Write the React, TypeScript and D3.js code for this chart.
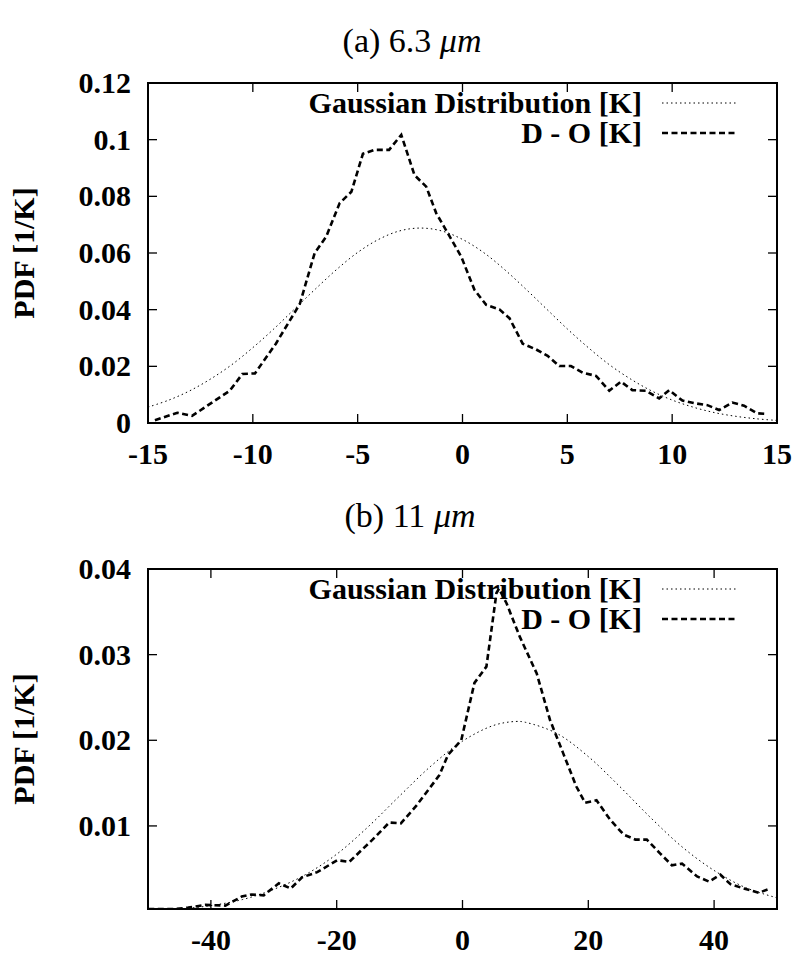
import React from "react";
import * as d3 from "d3";

// ---- Panel (a) 6.3 um ----
const topXTicks = [-15, -10, -5, 0, 5, 10, 15];
const topYTicks = [0, 0.02, 0.04, 0.06, 0.08, 0.1, 0.12];
const topYTickLabels = ["0", "0.02", "0.04", "0.06", "0.08", "0.1", "0.12"];

const topDOx = [-14.67, -13.6, -12.9, -11.1, -10.5, -9.9, -8.9, -7.76, -7.05, -6.5, -5.86, -5.3, -4.75, -4.19, -3.5, -2.92, -2.29, -1.73, -1.25, -0.78, -0.06, 0.57, 1.13, 1.76, 2.24, 2.87, 3.5, 4.06, 4.62, 5.17, 5.73, 6.37, 7.0, 7.56, 8.1, 8.75, 9.38, 9.86, 10.49, 11.13, 11.68, 12.24, 12.87, 13.43, 14.06, 14.54];
const topDOy = [0.001, 0.0036, 0.0025, 0.0114, 0.0173, 0.0175, 0.028, 0.042, 0.06, 0.0658, 0.0776, 0.0816, 0.095, 0.0964, 0.0964, 0.1017, 0.0875, 0.0834, 0.074, 0.068, 0.0587, 0.047, 0.0417, 0.0401, 0.037, 0.028, 0.026, 0.0237, 0.0201, 0.0201, 0.0178, 0.0166, 0.0114, 0.0146, 0.0116, 0.0114, 0.0087, 0.0116, 0.0079, 0.0069, 0.0063, 0.0046, 0.0072, 0.0061, 0.0034, 0.0032];

const topGx = [-15, -14, -13, -12, -11, -10, -9, -8, -7, -6, -5, -4, -3, -2, -1, 0, 1, 2, 3, 4, 5, 6, 7, 8, 9, 10, 11, 12, 13, 14, 15];
const topGy = [0.0056, 0.0081, 0.0114, 0.0156, 0.0206, 0.0266, 0.0332, 0.0403, 0.0474, 0.0542, 0.0602, 0.0648, 0.0678, 0.0688, 0.0678, 0.0648, 0.0602, 0.0542, 0.0474, 0.0403, 0.0332, 0.0266, 0.0206, 0.0156, 0.0114, 0.0081, 0.0056, 0.0037, 0.0024, 0.0015, 0.0009];

// ---- Panel (b) 11 um ----
const botXTicks = [-40, -20, 0, 20, 40];
const botYTicks = [0.01, 0.02, 0.03, 0.04];
const botYTickLabels = ["0.01", "0.02", "0.03", "0.04"];

const botDOx = [-49.96, -45.7, -43.6, -40.9, -37.7, -35.1, -33.5, -31.6, -29.2, -27.3, -25.5, -23.1, -19.9, -18.0, -14.3, -11.65, -9.8, -7.4, -3.7, -2.3, -0.2, 1.9, 3.8, 5.4, 5.8, 7.0, 9.1, 11.8, 13.9, 16.0, 18.1, 19.5, 21.3, 23.5, 25.6, 27.5, 29.3, 31.4, 33.3, 34.9, 37.3, 39.2, 41.0, 42.6, 44.7, 47.1, 49.0];
const botDOy = [0.0003, 0.0003, 0.00046, 0.00078, 0.0007, 0.00175, 0.002, 0.0019, 0.0033, 0.0027, 0.004, 0.0046, 0.006, 0.0058, 0.0084, 0.0104, 0.0103, 0.0123, 0.0159, 0.0183, 0.02, 0.0267, 0.0286, 0.0372, 0.0377, 0.036, 0.0321, 0.0278, 0.0224, 0.0185, 0.0146, 0.0127, 0.013, 0.0107, 0.009, 0.0084, 0.0084, 0.0068, 0.0054, 0.0056, 0.0041, 0.0035, 0.0043, 0.0032, 0.0027, 0.0022, 0.0027];

const botGx = [-50, -45, -40, -35, -30, -25, -20, -15, -10, -5, 0, 5, 8.5, 10, 15, 20, 25, 30, 35, 40, 45, 50];
const botGy = [0.00012, 0.0003, 0.0007, 0.0014, 0.0026, 0.0043, 0.0067, 0.0099, 0.0135, 0.017, 0.0199, 0.02175, 0.0222, 0.0221, 0.0208, 0.0181, 0.0146, 0.0109, 0.0075, 0.0048, 0.0028, 0.0016];

const legendLabels = ["Gaussian Distribution [K]", "D - O [K]"];
const yAxisLabel = "PDF [1/K]";

const FONT = "'Liberation Serif', 'Times New Roman', serif";
const FS = 30;

type PanelProps = {
  id: string;
  top: number;
  bottom: number;
  left: number;
  right: number;
  xDomain: [number, number];
  yDomain: [number, number];
  xTicks: number[];
  yTicks: number[];
  yTickLabels: string[];
  gx: number[];
  gy: number[];
  dx: number[];
  dy: number[];
};

function Panel(p: PanelProps) {
  const x = d3.scaleLinear().domain(p.xDomain).range([p.left, p.right]);
  const y = d3.scaleLinear().domain(p.yDomain).range([p.bottom, p.top]);
  const gPts = p.gx.map((v, i) => [v, p.gy[i]] as [number, number]);
  const dPts = p.dx.map((v, i) => [v, p.dy[i]] as [number, number]);
  const smooth = d3.line<[number, number]>().x((d) => x(d[0])).y((d) => y(d[1])).curve(d3.curveCatmullRom);
  const straight = d3.line<[number, number]>().x((d) => x(d[0])).y((d) => y(d[1]));
  const tl = 9;
  const cy = (p.top + p.bottom) / 2;
  return (
    <g>
      <defs>
        <clipPath id={p.id}>
          <rect x={p.left} y={p.top} width={p.right - p.left} height={p.bottom - p.top} />
        </clipPath>
      </defs>
      {p.xTicks.map((t) => (
        <g key={"xt" + t}>
          <line x1={x(t)} x2={x(t)} y1={p.bottom} y2={p.bottom - tl} stroke="#000" strokeWidth={1.3} />
          <line x1={x(t)} x2={x(t)} y1={p.top} y2={p.top + tl} stroke="#000" strokeWidth={1.3} />
          <text x={x(t)} y={p.bottom + 41} textAnchor="middle" fontFamily={FONT} fontWeight="bold" fontSize={FS}>
            {String(t)}
          </text>
        </g>
      ))}
      {p.yTicks.map((t, i) => (
        <g key={"yt" + t}>
          <line x1={p.left} x2={p.left + tl} y1={y(t)} y2={y(t)} stroke="#000" strokeWidth={1.3} />
          <line x1={p.right} x2={p.right - tl} y1={y(t)} y2={y(t)} stroke="#000" strokeWidth={1.3} />
          <text x={131} y={y(t) + 10} textAnchor="end" fontFamily={FONT} fontWeight="bold" fontSize={FS}>
            {p.yTickLabels[i]}
          </text>
        </g>
      ))}
      <text
        transform={`translate(34,${cy}) rotate(-90)`}
        textAnchor="middle"
        fontFamily={FONT}
        fontWeight="bold"
        fontSize={FS}
      >
        {yAxisLabel}
      </text>
      <g clipPath={`url(#${p.id})`}>
        <path d={smooth(gPts) || ""} fill="none" stroke="#000" strokeWidth={1} strokeDasharray="1.5,3" />
        <path d={straight(dPts) || ""} fill="none" stroke="#000" strokeWidth={2.6} strokeDasharray="6,3.5" />
      </g>
      <text x={642} y={p.top + 30} textAnchor="end" fontFamily={FONT} fontWeight="bold" fontSize={FS}>
        {legendLabels[0]}
      </text>
      <line x1={662} x2={737} y1={p.top + 20} y2={p.top + 20} stroke="#000" strokeWidth={1} strokeDasharray="1.5,3" />
      <text x={642} y={p.top + 60} textAnchor="end" fontFamily={FONT} fontWeight="bold" fontSize={FS}>
        {legendLabels[1]}
      </text>
      <line x1={662} x2={737} y1={p.top + 50} y2={p.top + 50} stroke="#000" strokeWidth={2.6} strokeDasharray="6,3.5" />
      <rect x={p.left} y={p.top} width={p.right - p.left} height={p.bottom - p.top} fill="none" stroke="#000" strokeWidth={2} />
    </g>
  );
}

export default function App() {
  return (
    <svg width={795} height={955} style={{ position: "absolute", left: 0, top: 0, background: "#fff" }}>
      <rect width={795} height={955} fill="#fff" />
      <text x={412} y={52} textAnchor="middle" fontFamily={FONT} fontSize={34}>
        (a) 6.3 <tspan fontStyle="italic">μm</tspan>
      </text>
      <Panel
        id="clipA"
        top={83}
        bottom={423}
        left={148}
        right={777}
        xDomain={[-15, 15]}
        yDomain={[0, 0.12]}
        xTicks={topXTicks}
        yTicks={topYTicks}
        yTickLabels={topYTickLabels}
        gx={topGx}
        gy={topGy}
        dx={topDOx}
        dy={topDOy}
      />
      <text x={410} y={527} textAnchor="middle" fontFamily={FONT} fontSize={34}>
        (b) 11 <tspan fontStyle="italic">μm</tspan>
      </text>
      <Panel
        id="clipB"
        top={569}
        bottom={909}
        left={148}
        right={777}
        xDomain={[-50, 50]}
        yDomain={[0.0003, 0.04]}
        xTicks={botXTicks}
        yTicks={botYTicks}
        yTickLabels={botYTickLabels}
        gx={botGx}
        gy={botGy}
        dx={botDOx}
        dy={botDOy}
      />
    </svg>
  );
}
